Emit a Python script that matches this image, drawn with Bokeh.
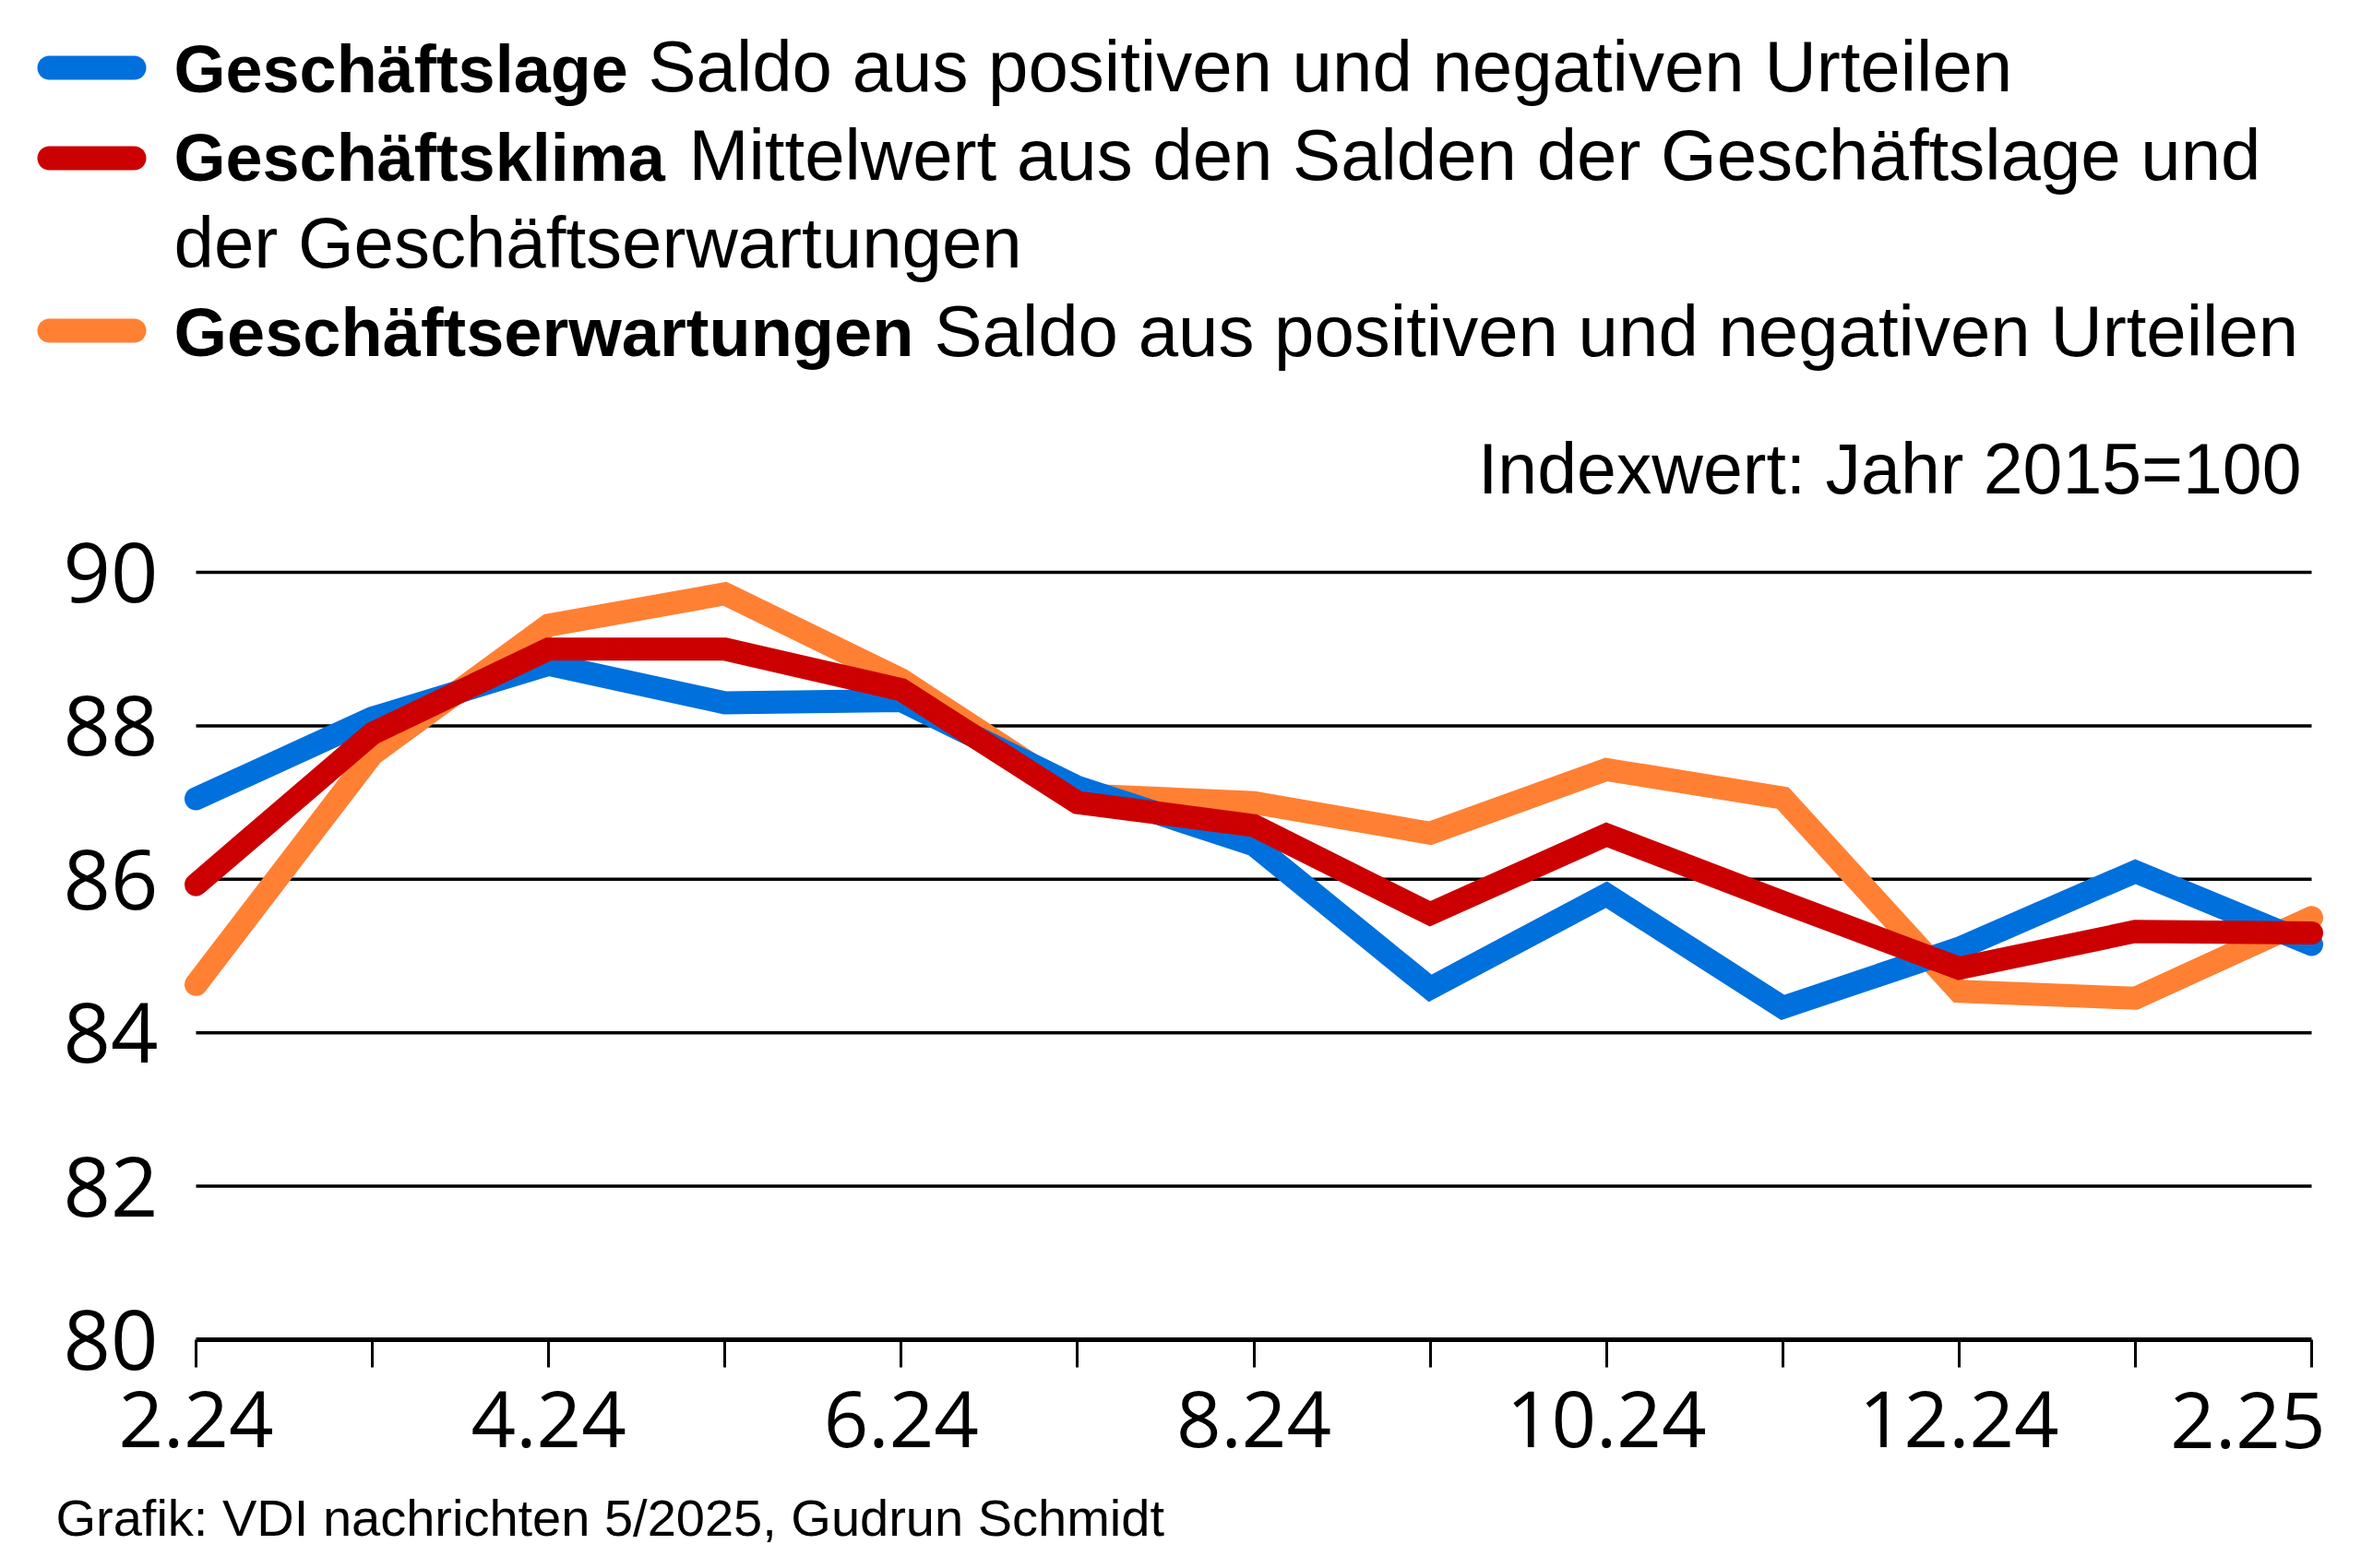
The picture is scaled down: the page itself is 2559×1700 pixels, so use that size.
from bokeh.plotting import figure
from bokeh.models import Range1d, FixedTicker
from bokeh.core.properties import value
from bokeh.embed import file_html
from bokeh.resources import INLINE

# ---------------- data ----------------
months = ["2.24", "3.24", "4.24", "5.24", "6.24", "7.24", "8.24",
          "9.24", "10.24", "11.24", "12.24", "1.25", "2.25"]
lage = [87.05, 88.1, 88.8, 88.3, 88.33, 87.2, 86.45, 84.58, 85.8, 84.33, 85.1, 86.1, 85.15]
klima = [85.93, 87.9, 89.0, 89.0, 88.47, 87.0, 86.7, 85.55, 86.58, 85.7, 84.84, 85.32, 85.3]
erwartungen = [84.63, 87.63, 89.31, 89.72, 88.6, 87.1, 87.0, 86.6, 87.43, 87.06, 84.54, 84.45, 85.5]
y_ticks = [80, 82, 84, 86, 88, 90]

series_names = ["Geschäftslage", "Geschäftsklima", "Geschäftserwartungen"]
series_desc = ["Saldo aus positiven und negativen Urteilen",
               "Mittelwert aus den Salden der Geschäftslage und",
               "Saldo aus positiven und negativen Urteilen"]
desc_cont = "der Geschäftserwartungen"
unit_note = "Indexwert: Jahr 2015=100"
source_note = "Grafik: VDI nachrichten 5/2025, Gudrun Schmidt"

BLUE = "#0070DC"
RED = "#CC0000"
ORANGE = "#FF8033"
TXT = "Liberation Sans"
NUM = "Open Sans"

# ---------------- layout geometry (picture pixels) ----------------
PAGE0 = 0
W, H = 2543, 1684
X_FIRST_PX, X_LAST_PX = 212, 2505      # first / last month
Y_TOP_PX, Y_BOT_PX = 620, 1452          # 90 gridline / 80 axis
YAXIS_PX = 193
BASE_FIX = 0.36                          # text baseline compensation (em)


def bl(y, size):
    return y - BASE_FIX * size


x = list(range(len(months)))
n = len(months) - 1
ppx = (X_LAST_PX - X_FIRST_PX) / n
x_start = -(X_FIRST_PX - PAGE0) / ppx
x_end = n + (PAGE0 + W - X_LAST_PX) / ppx
ppy = (Y_BOT_PX - Y_TOP_PX) / (y_ticks[-1] - y_ticks[0])
y_end = y_ticks[-1] + (Y_TOP_PX - PAGE0) / ppy
y_start = y_ticks[0] - (PAGE0 + H - Y_BOT_PX) / ppy

p = figure(width=W, height=H, x_range=Range1d(x_start, x_end), y_range=Range1d(y_start, y_end),
           output_backend="svg", toolbar_location=None, min_border=0)
p.title.visible = False
p.xgrid.visible = False
p.ygrid.visible = False
p.outline_line_color = None
p.background_fill_color = "white"
p.border_fill_color = "white"
p.extra_x_ranges = {"px": Range1d(PAGE0, PAGE0 + W)}
p.extra_y_ranges = {"px": Range1d(PAGE0 + H, PAGE0)}

# ---------------- header: legend + unit note ----------------
sw_y = [73, 171, 358]
p.segment(x0=[53] * 3, x1=[145] * 3, y0=sw_y, y1=sw_y, x_range_name="px", y_range_name="px",
          line_color=[BLUE, RED, ORANGE], line_width=26, line_cap="round")

row_y = [100, 196, 387]
desc_x = [702, 746, 1012]
bold_size = [72, 72, 74]
for name, desc, ry, dx, bs in zip(series_names, series_desc, row_y, desc_x, bold_size):
    p.text(x=[188], y=[bl(ry, bs)], text=[name], x_range_name="px", y_range_name="px",
           text_font=value(TXT), text_font_style="bold", text_font_size=f"{bs}px",
           text_color="black", text_baseline="alphabetic", text_align="left")
    p.text(x=[dx], y=[bl(ry, 78)], text=[desc], x_range_name="px", y_range_name="px",
           text_font=value(TXT), text_font_size="78px",
           text_color="black", text_baseline="alphabetic", text_align="left")
p.text(x=[188], y=[bl(291, 78)], text=[desc_cont], x_range_name="px", y_range_name="px",
       text_font=value(TXT), text_font_size="78px", text_color="black",
       text_baseline="alphabetic", text_align="left")
p.text(x=[2494], y=[bl(535, 77)], text=[unit_note], x_range_name="px", y_range_name="px",
       text_font=value(TXT), text_font_size="77px", text_color="black",
       text_baseline="alphabetic", text_align="right")

# ---------------- chart ----------------
grid_y = y_ticks[1:]
p.segment(x0=[x[0]] * len(grid_y), x1=[x[-1]] * len(grid_y), y0=grid_y, y1=grid_y,
          line_color="black", line_width=3.5)

p.line(x, erwartungen, line_color=ORANGE, line_width=25, line_join="miter", line_cap="round")
p.line(x, lage, line_color=BLUE, line_width=25, line_join="miter", line_cap="round")
p.line(x, klima, line_color=RED, line_width=25, line_join="miter", line_cap="round")

xa = p.xaxis[0]
xa.fixed_location = y_ticks[0]
xa.ticker = FixedTicker(ticks=x)
xa.major_label_overrides = {i: (months[i] if (i % 2 == 0 and i < n) else "") for i in x}
xa.bounds = (x[0], x[-1])
xa.axis_line_width = 5
xa.axis_line_color = "black"
xa.major_tick_line_width = 3
xa.major_tick_line_color = "black"
xa.major_tick_out = 30
xa.major_tick_in = 0
xa.minor_tick_line_color = None
xa.major_label_text_font = NUM
xa.major_label_text_font_size = "85px"
xa.major_label_text_color = "black"
xa.major_label_standoff = 25

# last month label kept inside the page, right-aligned at its tick
p.text(x=[x[-1]], y=[y_ticks[0]], text=[months[-1]], x_offset=15, y_offset=118 - BASE_FIX * 85,
       text_font=value(NUM), text_font_size="85px", text_color="black",
       text_baseline="alphabetic", text_align="right")

ya = p.yaxis[0]
ya.fixed_location = (YAXIS_PX - X_FIRST_PX) / ppx
ya.ticker = FixedTicker(ticks=y_ticks)
ya.bounds = (y_ticks[0], y_ticks[-1])
ya.axis_line_color = None
ya.major_tick_line_color = None
ya.minor_tick_line_color = None
ya.major_label_text_font = NUM
ya.major_label_text_font_size = "90px"
ya.major_label_text_color = "black"
ya.major_label_standoff = 16

# ---------------- footer ----------------
p.text(x=[60], y=[bl(1665, 56)], text=[source_note], x_range_name="px", y_range_name="px",
       text_font=value(TXT), text_font_size="56px", text_color="black",
       text_baseline="alphabetic", text_align="left")

open("out.html", "w").write(file_html(p, INLINE))
